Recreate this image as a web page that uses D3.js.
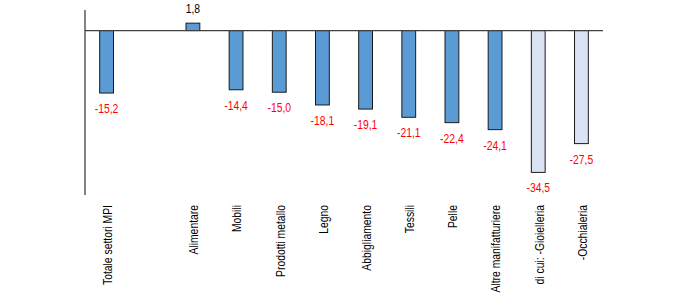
<!DOCTYPE html>
<html>
<head>
<meta charset="utf-8">
<script src="https://cdn.jsdelivr.net/npm/d3@7"></script>
<style>
  html, body { margin: 0; padding: 0; background: #fff; }
  svg { display: block; font-family: "Liberation Sans", Arial, sans-serif; }
</style>
</head>
<body>
<svg id="chart" width="700" height="300"></svg>
<script>
const categories = ["Totale settori MPI", "", "Alimentare", "Mobili", "Prodotti metallo", "Legno",
  "Abbigliamento", "Tessili", "Pelle", "Altre manifatturiere", "di cui: -Gioielleria", "-Occhialeria"];
const values = [-15.2, null, 1.8, -14.4, -15.0, -18.1, -19.1, -21.1, -22.4, -24.1, -34.5, -27.5];
const subgroup = [false, false, false, false, false, false, false, false, false, false, true, true];
const yDomain = [-40, 5];

const svg = d3.select("#chart");
const x = d3.scaleBand().domain(categories.map((c, i) => i)).range([85, 603]).paddingInner(0.68).paddingOuter(0.34);
const y = d3.scaleLinear().domain(yDomain).range([195, 10]);

const data = categories.map((c, i) => ({ i, c, v: values[i], sub: subgroup[i] }));
const fmt = v => d3.format(".1f")(v).replace(".", ",").replace("−", "-");
const squeeze = 0.83;

// y axis line
svg.append("line").attr("x1", 85).attr("x2", 85).attr("y1", y(yDomain[1])).attr("y2", y(yDomain[0]))
  .attr("stroke", "#404040").attr("stroke-width", 1.3);

// bars
const bars = data.filter(d => d.v !== null);
svg.selectAll("rect.bar").data(bars).enter().append("rect")
  .attr("class", "bar")
  .attr("x", d => x(d.i))
  .attr("width", x.bandwidth())
  .attr("y", d => y(Math.max(0, d.v)))
  .attr("height", d => Math.abs(y(d.v) - y(0)))
  .attr("fill", d => d.sub ? "#DAE3F3" : "#5B9BD5")
  .attr("stroke", "#1a1a1a")
  .attr("stroke-width", 1);

// zero baseline
svg.append("line").attr("x1", 85).attr("x2", 603).attr("y1", y(0)).attr("y2", y(0))
  .attr("stroke", "#404040").attr("stroke-width", 1.3);

// value labels
svg.selectAll("text.val").data(bars).enter().append("text")
  .attr("class", "val")
  .attr("transform", d => `translate(${x(d.i) + x.bandwidth() / 2},${d.v < 0 ? y(d.v) + 20 : y(d.v) - 10}) scale(${squeeze},1)`)
  .attr("text-anchor", "middle")
  .attr("font-size", 12.5)
  .attr("fill", d => d.v < 0 ? "#FF0000" : "#000")
  .text(d => fmt(d.v));

// category labels
svg.selectAll("text.cat").data(data.filter(d => d.c)).enter().append("text")
  .attr("class", "cat")
  .attr("transform", d => `translate(${x(d.i) + x.bandwidth() / 2 + 1},205) rotate(-90) scale(${squeeze},1)`)
  .attr("text-anchor", "end")
  .attr("dy", "0.35em")
  .attr("font-size", 12.5)
  .attr("fill", "#000")
  .text(d => d.c);
</script>
</body>
</html>
